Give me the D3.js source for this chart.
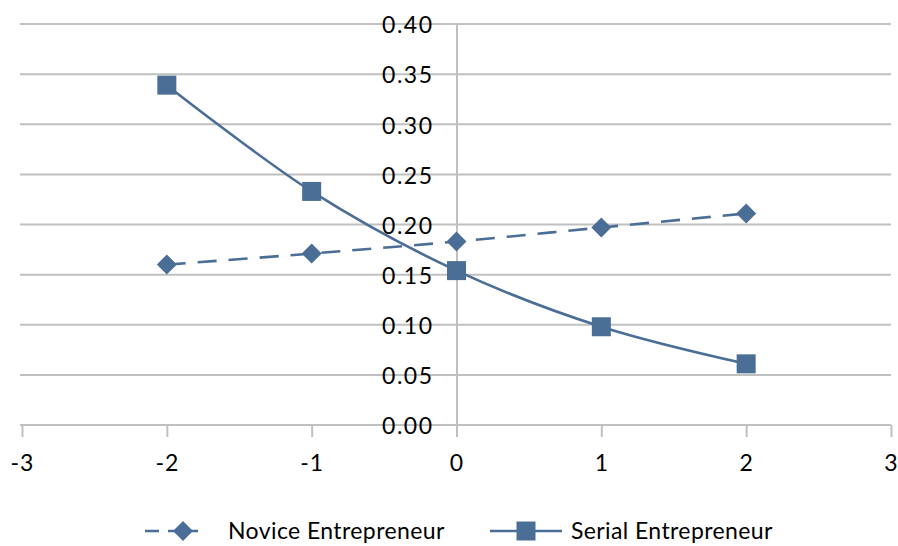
<!DOCTYPE html>
<html>
<head>
<meta charset="utf-8">
<script src="https://cdn.jsdelivr.net/npm/d3@7"></script>
<style>
  html, body { margin: 0; padding: 0; background: #fff; }
  svg text { font-family: Lato, "Open Sans", sans-serif; fill: #000; }
</style>
</head>
<body>
<svg id="chart" width="898" height="546"></svg>
<script>
// Data
const xValues = [-2, -1, 0, 1, 2];
const noviceValues = [0.160, 0.171, 0.183, 0.197, 0.211];
const serialValues = [0.339, 0.233, 0.154, 0.098, 0.061];
const xTicks = [-3, -2, -1, 0, 1, 2, 3];
const yTicks = [0, 0.05, 0.10, 0.15, 0.20, 0.25, 0.30, 0.35, 0.40];
const seriesNames = ["Novice Entrepreneur", "Serial Entrepreneur"];

const color = "#4a6e96";
const gridColor = "#c0c0c0";
const fontSize = 23;

const svg = d3.select("#chart");

const x = d3.scaleLinear().domain([-3, 3]).range([22, 891]);
const y = d3.scaleLinear().domain([0, 0.4]).range([425, 24]);

// Horizontal gridlines
svg.append("g")
  .selectAll("line")
  .data(yTicks.slice(1))
  .join("line")
  .attr("x1", 20).attr("x2", 891)
  .attr("y1", d => y(d)).attr("y2", d => y(d))
  .attr("stroke", gridColor).attr("stroke-width", 2);

// X axis (at y = 0) with downward ticks
const xAxis = svg.append("g")
  .attr("transform", `translate(0,${y(0)})`)
  .call(d3.axisBottom(x).tickValues(xTicks).tickSize(12).tickPadding(18)
    .tickFormat(d => d < 0 ? "-" + Math.abs(d) : String(d)));
xAxis.select(".domain").attr("stroke", gridColor).attr("stroke-width", 2)
  .attr("d", `M20,0H${x(3)}`);
xAxis.selectAll(".tick line").attr("stroke", gridColor).attr("stroke-width", 2);
xAxis.selectAll(".tick text")
  .attr("font-size", fontSize).attr("font-family", "Lato, sans-serif").attr("fill", "#000")
  .attr("letter-spacing", 1)
  .attr("dy", "0.71em");

// Y axis at x = 0
const yAxis = svg.append("g")
  .attr("transform", `translate(${x(0)},0)`)
  .call(d3.axisLeft(y).tickValues(yTicks).tickSize(0).tickPadding(23)
    .tickFormat(d3.format(".2f")));
yAxis.select(".domain").attr("stroke", gridColor).attr("stroke-width", 2);
yAxis.selectAll(".tick text")
  .attr("font-size", fontSize).attr("font-family", "Lato, sans-serif").attr("fill", "#000")
  .attr("letter-spacing", 1.5).attr("dy", "0.38em");

// Series lines
const pts = vals => xValues.map((d, i) => [x(d), y(vals[i])]);
const smooth = d3.line().curve(d3.curveCatmullRom.alpha(0.5));

svg.append("path")
  .attr("d", smooth(pts(noviceValues)))
  .attr("fill", "none").attr("stroke", color).attr("stroke-width", 2.6)
  .attr("stroke-dasharray", "19,12");

svg.append("path")
  .attr("d", smooth(pts(serialValues)))
  .attr("fill", "none").attr("stroke", color).attr("stroke-width", 2.6);

// Markers
const diamond = d3.symbol().type(d3.symbolSquare).size(200);
svg.append("g").selectAll("path")
  .data(pts(noviceValues))
  .join("path")
  .attr("d", diamond)
  .attr("transform", d => `translate(${d[0]},${d[1]}) rotate(45)`)
  .attr("fill", color);

svg.append("g").selectAll("rect")
  .data(pts(serialValues))
  .join("rect")
  .attr("x", d => d[0] - 9.5).attr("y", d => d[1] - 9.5)
  .attr("width", 19).attr("height", 19)
  .attr("fill", color);

// Legend
const legY = 531;
const leg = svg.append("g");
leg.append("line").attr("x1", 145).attr("x2", 198).attr("y1", legY).attr("y2", legY)
  .attr("stroke", color).attr("stroke-width", 2.6).attr("stroke-dasharray", "14,9");
leg.append("path").attr("d", diamond)
  .attr("transform", `translate(183,${legY}) rotate(45)`).attr("fill", color);
leg.append("text").attr("x", 228).attr("y", legY).attr("dy", "0.36em")
  .attr("font-size", fontSize).attr("letter-spacing", 0.4).text(seriesNames[0]);

leg.append("line").attr("x1", 490).attr("x2", 562).attr("y1", legY).attr("y2", legY)
  .attr("stroke", color).attr("stroke-width", 2.6);
leg.append("rect").attr("x", 526 - 9.5).attr("y", legY - 9.5)
  .attr("width", 19).attr("height", 19).attr("fill", color);
leg.append("text").attr("x", 571).attr("y", legY).attr("dy", "0.36em")
  .attr("font-size", fontSize).attr("letter-spacing", 0.4).text(seriesNames[1]);
</script>
</body>
</html>
